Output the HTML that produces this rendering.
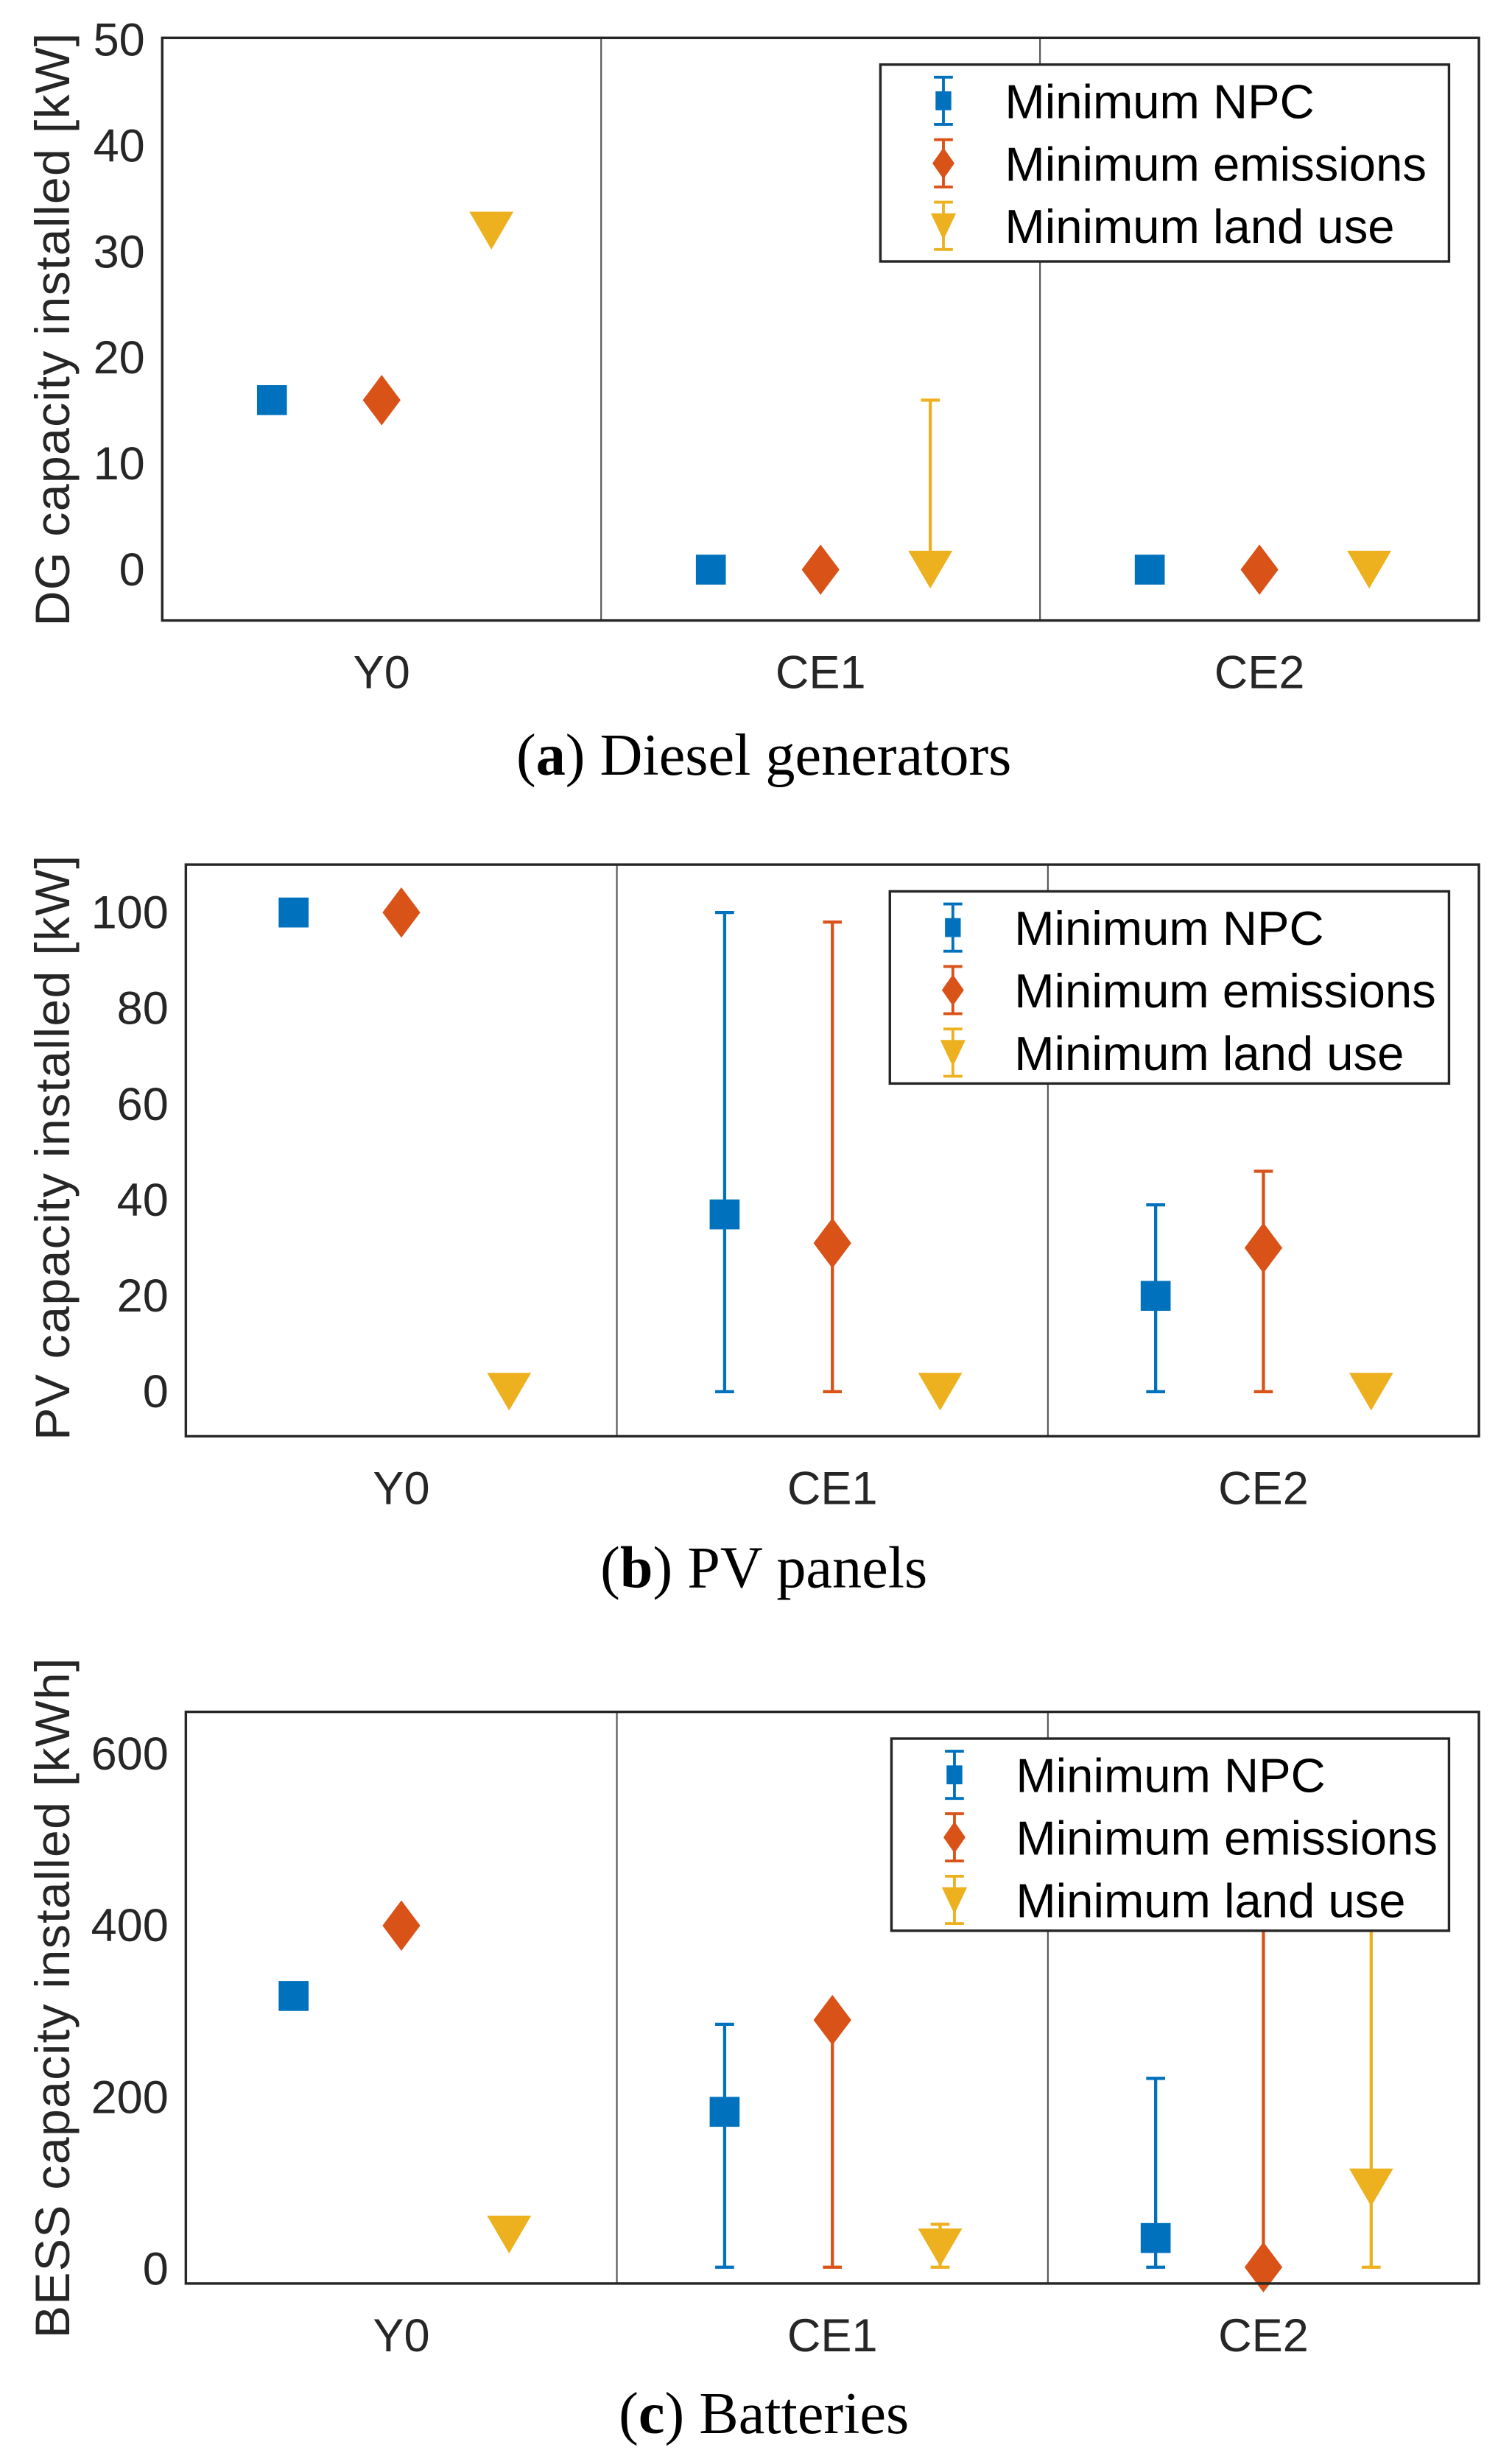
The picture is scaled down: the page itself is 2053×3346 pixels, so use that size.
<!DOCTYPE html>
<html><head><meta charset="utf-8"><style>
html,body{margin:0;padding:0;background:#fff;}
svg{display:block;}
text{font-family:"Liberation Sans",sans-serif;}
.cap{font-family:"Liberation Serif",serif;}
</style></head><body>
<svg id="fig" width="2053" height="3346" viewBox="0 0 960 1564.6" xmlns="http://www.w3.org/2000/svg"></svg>
<script>
const categories = ["Y0", "CE1", "CE2"];
const seriesNames = ["Minimum NPC", "Minimum emissions", "Minimum land use"];
// Panel a: DG
const dgNpc = [16, 0, 0];
const dgEm = [16, 0, 0];
const dgLand = [32, 0, 0];
const dgNpcLo = [null, null, null], dgNpcHi = [null, null, null];
const dgEmLo = [null, null, null], dgEmHi = [null, null, null];
const dgLandLo = [null, 0, null], dgLandHi = [null, 16, null];
const dgTicks = [0, 10, 20, 30, 40, 50];
// Panel b: PV
const pvNpc = [100, 37, 20];
const pvEm = [100, 31, 30];
const pvLand = [0, 0, 0];
const pvNpcLo = [null, 0, 0], pvNpcHi = [null, 100, 39];
const pvEmLo = [null, 0, 0], pvEmHi = [null, 98, 46];
const pvLandLo = [null, null, null], pvLandHi = [null, null, null];
const pvTicks = [0, 20, 40, 60, 80, 100];
// Panel c: BESS
const bsNpc = [318, 183, 36];
const bsEm = [400, 290, 2];
const bsLand = [40, 25, 95];
const bsNpcLo = [null, 2, 2], bsNpcHi = [null, 285, 222];
const bsEmLo = [null, 2, 2], bsEmHi = [null, 290, 600];
const bsLandLo = [null, 2, 2], bsLandHi = [null, 52, 600];
const bsTicks = [0, 200, 400, 600];

const NS = "http://www.w3.org/2000/svg";
const svg = document.getElementById("fig");
const colors = ["#0072BD", "#D95319", "#EDB120"];
function mk(tag, attrs, parent) {
  const e = document.createElementNS(NS, tag);
  for (const k in attrs) e.setAttribute(k, attrs[k]);
  (parent || svg).appendChild(e);
  return e;
}
function marker(g, kind, cx, cy, color) {
  let e;
  if (kind === 0) e = mk("rect", {x: cx - 9.5, y: cy - 9.5, width: 19, height: 19, fill: color}, g);
  else if (kind === 1) e = mk("polygon", {points: `${cx},${cy-16} ${cx+12},${cy} ${cx},${cy+16} ${cx-12},${cy}`, fill: color}, g);
  else e = mk("polygon", {points: `${cx-14},${cy-12} ${cx+14},${cy-12} ${cx},${cy+12}`, fill: color}, g);
  return e;
}
function panel(p) {
  const g = mk("g", {});
  
  
  const {x0, x1, y0, y1, ymin, ymax} = p;
  const X = v => x0 + (v - 0.5) / 3 * (x1 - x0);
  const Y = v => y1 - (v - ymin) / (ymax - ymin) * (y1 - y0);
  [1.5, 2.5].forEach(d => {
    const l = mk("line", {x1: X(d), x2: X(d), y1: y0, y2: y1, stroke: "#555", "stroke-width": 1}, g);
    
    
  });
  p.ticks.forEach(t => {
    const tx = mk("text", {x: x0 - 11, y: Y(t) + 10, "text-anchor": "end", "font-size": 29.5, fill: "#262626"}, g);
    tx.textContent = t;
    
    
  });
  categories.forEach((c, i) => {
    const tx = mk("text", {x: X(i + 1), y: y1 + 43, "text-anchor": "middle", "font-size": 29.5, fill: "#262626"}, g);
    tx.textContent = c;
    
    
  });
  const yl = mk("text", {x: 0, y: 0, "text-anchor": "middle", "font-size": 31, "letter-spacing": 0.6, fill: "#262626", transform: `translate(${p.ylx},${(y0 + y1) / 2 + p.yldy}) rotate(-90)`}, g);
  yl.textContent = p.ylabel;
  
  
  const offs = [-0.25, 0, 0.25];
  p.series.forEach((s, k) => {
    s.vals.forEach((v, i) => {
      const cx = X(i + 1 + offs[k]);
      if (s.lo[i] !== null) {
        const eb = mk("path", {d: `M${cx},${Y(s.lo[i])}V${Y(s.hi[i])}M${cx-6},${Y(s.lo[i])}h12M${cx-6},${Y(s.hi[i])}h12`, stroke: colors[k], "stroke-width": 2, fill: "none"}, g);
        
        
      }
      const m = marker(g, k, cx, Y(v), colors[k]);
      
      
    });
  });
  const box = mk("rect", {x: x0, y: y0, width: x1 - x0, height: y1 - y0, fill: "none", stroke: "#262626", "stroke-width": 1.6}, g);
  
  
  const L = p.leg;
  const lg = mk("g", {}, g);
  
  
  mk("rect", {x: L.x, y: L.y, width: L.w, height: L.h, fill: "#fff", stroke: "#262626", "stroke-width": 1.6}, lg);
  seriesNames.forEach((n, k) => {
    const cy = L.y + 23 + k * 39.7;
    const cx = L.x + 40;
    mk("path", {d: `M${cx},${cy-15}V${cy+15}M${cx-6},${cy-15}h12M${cx-6},${cy+15}h12`, stroke: colors[k], "stroke-width": 1.8}, lg);
    const lm = k === 0 ? mk("rect", {x: cx - 5, y: cy - 6, width: 10, height: 12, fill: colors[k]}, lg)
      : k === 1 ? mk("polygon", {points: `${cx},${cy-10} ${cx+7},${cy} ${cx},${cy+10} ${cx-7},${cy}`, fill: colors[k]}, lg)
      : mk("polygon", {points: `${cx-8},${cy-8} ${cx+8},${cy-8} ${cx},${cy+9}`, fill: colors[k]}, lg);
    
    
    const t = mk("text", {x: L.x + 79, y: cy + 11, "font-size": 30.5, fill: "#000"}, lg);
    t.textContent = n;
    
    
  });
  const cap = mk("text", {x: 485, y: p.capy, "text-anchor": "middle", "font-size": 37.5, class: "cap", fill: "#000"}, g);
  cap.innerHTML = `(<tspan font-weight="bold">${p.capl}</tspan>) ${p.cap}`;
  
  
}
panel({name: "panel-diesel", x0: 103, x1: 939, y0: 24, y1: 394, ymin: -4.8, ymax: 50.2, ticks: dgTicks,
  ylabel: "DG capacity installed [kW]", ylx: 44, yldy: 0,
  series: [{vals: dgNpc, lo: dgNpcLo, hi: dgNpcHi}, {vals: dgEm, lo: dgEmLo, hi: dgEmHi}, {vals: dgLand, lo: dgLandLo, hi: dgLandHi}],
  leg: {x: 559, y: 41, w: 361, h: 125}, capy: 492, capl: "a", cap: "Diesel generators"});
panel({name: "panel-pv", x0: 118, x1: 939, y0: 549, y1: 912, ymin: -9.3, ymax: 110, ticks: pvTicks,
  ylabel: "PV capacity installed [kW]", ylx: 44, yldy: -2,
  series: [{vals: pvNpc, lo: pvNpcLo, hi: pvNpcHi}, {vals: pvEm, lo: pvEmLo, hi: pvEmHi}, {vals: pvLand, lo: pvLandLo, hi: pvLandHi}],
  leg: {x: 565, y: 566, w: 355, h: 122}, capy: 1008, capl: "b", cap: "PV panels"});
panel({name: "panel-bess", x0: 118, x1: 939, y0: 1087, y1: 1450, ymin: -17, ymax: 649, ticks: bsTicks,
  ylabel: "BESS capacity installed [kWh]", ylx: 44, yldy: 0,
  series: [{vals: bsNpc, lo: bsNpcLo, hi: bsNpcHi}, {vals: bsEm, lo: bsEmLo, hi: bsEmHi}, {vals: bsLand, lo: bsLandLo, hi: bsLandHi}],
  leg: {x: 566, y: 1104, w: 354, h: 122}, capy: 1545, capl: "c", cap: "Batteries"});
</script>
</body></html>
